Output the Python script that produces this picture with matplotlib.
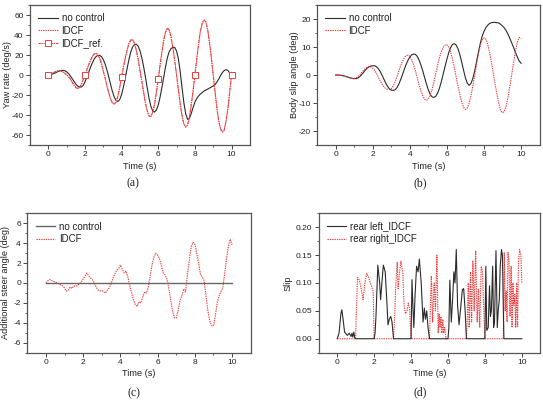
import numpy as np
import matplotlib

matplotlib.use("Agg")
import matplotlib.pyplot as plt

plt.rcParams["font.family"] = ["Liberation Sans", "DejaVu Sans"]

# sample times for panels (a)-(c), 0.1 s step
t = np.round(np.arange(101) * 0.1, 1)

# (a) yaw rate (deg/s)
yaw_nc = [0, 0.3, 0.8, 1.5, 2.3, 3.2, 4.0, 4.5, 4.7, 4.3,
          3.2, 1.5, -0.8, -3.5, -6.3, -9, -11, -12, -12, -10.5,
          -7, -2.5, 2.5, 7.5, 12, 15.8, 18.3, 19.6, 19.7, 18.5,
          15.5, 11, 5, -2, -9.5, -16.5, -22, -25.5, -26.4, -24.5,
          -19.5, -12, -3, 6.5, 15.5, 23, 28, 30.5, 30.8, 29,
          24.5, 17.5, 8.5, -2, -13, -23.5, -31.5, -36, -37, -35,
          -30, -22, -12.5, -2, 8.5, 17.5, 23.5, 26.5, 27.8, 27.5,
          24, 16, 3, -13, -28, -39, -44.4, -43.5, -38.5, -32.5,
          -27, -23.5, -21, -19, -17.5, -16, -15, -14, -13, -12,
          -11, -9.5, -7, -4, -0.5, 2.5, 4.5, 5.4, 4.5, 2,
          0]
yaw_idcf = [0, 0.5, 1.5, 2.5, 3.5, 4.2, 4.4, 4.0, 3.0, 1.8,
            0.3, -1.5, -4, -7, -10, -12.5, -13.5, -12.5, -9.5, -5,
            0, 5, 10, 14.5, 18.5, 21, 21.7, 20.5, 17, 11.5,
            4, -3, -11, -18, -24, -28, -29, -27, -21, -12,
            -2, 8, 17, 25, 31.5, 35, 35.3, 32, 25, 16,
            5, -6, -17, -28, -36, -41, -41.5, -37, -29, -17,
            -4, 10, 23, 35, 43, 47, 45, 38, 27, 14,
            0, -15, -29, -41, -49, -52, -50, -42, -30, -16,
            0, 16, 31, 44, 52, 55, 53, 45, 32, 17,
            0, -17, -33, -46, -54, -57, -55, -46, -33, -17,
            0]
yaw_ref = yaw_idcf

# (b) body slip angle (deg)
beta_nc = [0, 0, 0, -0.1, -0.2, -0.4, -0.6, -0.8, -1.0, -1.2,
           -1.3, -1.3, -1.1, -0.6, 0.1, 0.9, 1.7, 2.4, 2.9, 3.2,
           3.3, 3.3, 3.0, 2.3, 1.3, 0, -1.4, -2.8, -4.0, -4.9,
           -5.4, -5.5, -5.3, -4.6, -3.4, -1.8, 0, 1.9, 3.7, 5.2,
           6.4, 7.2, 7.5, 7.4, 6.7, 5.4, 3.6, 1.5, -0.9, -3.2,
           -5.3, -6.9, -7.8, -8.0, -7.6, -6.5, -4.7, -2.4, 0.3, 3.0,
           5.6, 8.0, 9.8, 10.9, 11.2, 10.7, 9.4, 7.3, 4.6, 1.7,
           -1.0, -2.9, -3.7, -3.0, -1.2, 1.5, 4.8, 8.2, 11.3, 13.8,
           15.6, 16.9, 17.8, 18.4, 18.7, 18.8, 18.8, 18.7, 18.6, 18.1,
           17.5, 16.8, 15.8, 14.5, 13.0, 11.4, 9.8, 8.0, 6.4, 5.0,
           4.2]
beta_idcf = [0, 0, -0.1, -0.2, -0.3, -0.5, -0.7, -0.9, -1.1, -1.2,
             -1.2, -1.0, -0.6, 0, 0.8, 1.6, 2.3, 2.8, 3.0, 2.9,
             2.5, 1.7, 0.6, -0.7, -2.0, -3.2, -4.2, -4.8, -5.1, -5.2,
             -4.9, -4.0, -2.6, -0.8, 1.2, 3.1, 4.8, 6.1, 6.9, 7.1,
             6.7, 5.6, 3.8, 1.6, -0.9, -3.4, -5.6, -7.4, -8.6, -9.0,
             -8.6, -7.3, -5.2, -2.5, 0.5, 3.5, 6.2, 8.4, 9.9, 10.7,
             10.8, 10.0, 8.3, 5.8, 2.7, -0.7, -4.0, -7.1, -9.7, -11.6,
             -12.3, -11.8, -10.0, -7.3, -3.9, -0.1, 3.8, 7.4, 10.4, 12.5,
             13.3, 12.8, 11.0, 8.2, 4.7, 0.8, -3.2, -7.0, -10.3, -12.7,
             -13.5, -12.9, -10.9, -7.8, -3.9, 0.3, 4.6, 8.6, 11.8, 13.4,
             13.0]

# (c) additional steer angle (deg)
steer_t_nc = [0, 10]
steer_nc = [0, 0]
steer_idcf = [0.0, 0.2, 0.35, 0.25, 0.15, 0.1, 0.0, -0.1, -0.2, -0.3,
              -0.5, -0.8, -0.75, -0.4, -0.55, -0.3, -0.35, -0.2, -0.1, 0.1,
              0.4, 0.7, 1.0, 0.7, 0.5, 0.3, 0.0, -0.4, -0.7, -0.8,
              -0.75, -0.9, -1.0, -0.7, -0.5, -0.1, 0.5, 0.9, 1.3, 1.4,
              1.8, 1.4, 1.0, 1.2, 0.6, -0.2, -1.0, -1.7, -2.2, -2.35,
              -1.9, -2.0, -1.4, -0.9, -1.0, -0.4, 0.7, 1.8, 2.6, 3.0,
              2.8, 2.4, 1.8, 1.0, 0.8, 0.4, -0.5, -1.7, -2.8, -3.5,
              -3.5, -2.8, -1.8, -1.3, -0.6, -0.9, 0.8, 2.3, 3.6, 4.1,
              3.9, 3.0, 2.0, 0.9, 0.6, 0.2, -1.3, -2.8, -3.8, -4.3,
              -4.3, -3.3, -2.0, -1.3, -0.9, -0.5, 0.9, 2.4, 3.7, 4.4,
              3.8]

# (d) wheel slip
rl_t = [0, 0.1, 0.2, 0.25, 0.3, 0.4, 0.45, 0.55, 0.65, 0.75, 0.8, 0.85, 0.9, 0.95, 1.0,
        2.0, 2.05, 2.1, 2.2, 2.3, 2.35, 2.42, 2.5, 2.6, 2.7, 2.75, 2.82, 2.9, 2.97, 3.05,
        4.0, 4.05, 4.1, 4.15, 4.22, 4.3, 4.38, 4.45, 4.55, 4.65, 4.72, 4.78, 4.85, 4.92, 5.0,
        6.0, 6.05, 6.1, 6.18, 6.25, 6.32, 6.38, 6.45, 6.52, 6.6, 6.7, 6.78, 6.85, 6.93, 7.0,
        8.0, 8.05, 8.1, 8.18, 8.25, 8.3, 8.35, 8.42, 8.47, 8.52, 8.6, 8.67, 8.72, 8.78, 8.83,
        8.9, 8.95, 9.0, 9.03, 10.0]
rl_slip = [0, 0.01, 0.045, 0.052, 0.04, 0.012, 0.01, 0.006, 0.01, 0.004, 0.01, 0.003, 0.012, 0.002, 0,
           0, 0.01, 0.04, 0.132, 0.1, 0.07, 0.1, 0.132, 0.12, 0.06, 0.025, 0.035, 0.04, 0.03, 0,
           0, 0.106, 0.06, 0.02, 0.08, 0.13, 0.12, 0.143, 0.1, 0.03, 0.055, 0.035, 0.05, 0.02, 0,
           0, 0.02, 0.105, 0.03, 0.07, 0.12, 0.1, 0.16, 0.06, 0.025, 0.06, 0.088, 0.09, 0.05, 0,
           0, 0.13, 0.015, 0.02, 0.095, 0.04, 0.05, 0.13, 0.02, 0.03, 0.158, 0.02, 0.05, 0.07, 0.13,
           0.16, 0.15, 0.05, 0, 0]
rr_t = [0, 1.0,
        1.02, 1.1, 1.2, 1.3, 1.4, 1.5, 1.6, 1.7, 1.8, 1.95, 2.0,
        3.05, 3.1, 3.18, 3.25, 3.3, 3.38, 3.45, 3.55, 3.62, 3.7, 3.78, 3.85, 3.92, 4.0,
        5.0, 5.05, 5.1, 5.17, 5.25, 5.32, 5.4, 5.47, 5.52, 5.57, 5.62, 5.67, 5.72, 5.77, 5.82, 5.9,
        7.0, 7.05, 7.1, 7.15, 7.22, 7.28, 7.35, 7.42, 7.5, 7.58, 7.65, 7.72, 7.8, 7.87, 7.93, 8.0,
        9.0, 9.05, 9.1, 9.15, 9.2, 9.25, 9.3, 9.36, 9.42, 9.47, 9.52, 9.57, 9.62, 9.67, 9.72,
        9.77, 9.82, 9.88, 9.95, 10.0]
rr_slip = [0, 0,
           0.03, 0.11, 0.105, 0.09, 0.07, 0.1, 0.117, 0.11, 0.1, 0.085, 0,
           0, 0.03, 0.1, 0.137, 0.09, 0.12, 0.139, 0.12, 0.06, 0.045, 0.05, 0.064, 0.055, 0,
           0, 0.06, 0.113, 0.03, 0.1, 0.05, 0.15, 0.01, 0.045, 0.02, 0.04, 0.01, 0.035, 0.01, 0.02, 0,
           0, 0.04, 0.1, 0.02, 0.12, 0.03, 0.14, 0.05, 0.158, 0.03, 0.09, 0.02, 0.13, 0.12, 0.06, 0,
           0, 0.155, 0.05, 0.085, 0.03, 0.155, 0.14, 0.04, 0.13, 0.02, 0.1, 0.06, 0.08, 0.02, 0.1,
           0.02, 0.14, 0.16, 0.15, 0.1]

BLACK = "#2b2b2b"
RED = "#ee3b3b"
DOT = (0, (1.2, 0.9))
LEG = dict(loc="upper left", frameon=False, fontsize=7.0, handlelength=2.0,
           handletextpad=0.4, labelspacing=0.25, borderaxespad=0.45)


def style(ax, ylim, yticks, ylabel, ylab_x, yfmt="{:g}", reverse=False):
    ax.set_xlim(-1, 11)
    ax.set_ylim(*ylim)
    ax.set_xticks([0, 2, 4, 6, 8, 10])
    ax.set_xticks([1, 3, 5, 7, 9], minor=True)
    ax.set_yticks(yticks)
    ax.set_yticklabels([yfmt.format(v) for v in yticks])
    step = yticks[1] - yticks[0]
    ax.set_yticks(np.arange(yticks[0] - step / 2, yticks[-1] + step, step / 2), minor=True)
    ax.tick_params(which="major", direction="out", length=3, width=0.7, labelsize=6.0,
                   pad=1.6, colors="#444444", labelcolor="#222222")
    ax.tick_params(which="minor", direction="out", length=1.6, width=0.6, colors="#444444")
    for s in ax.spines.values():
        s.set_color("#555555")
        s.set_linewidth(0.9)
    ax.set_xlabel("Time (s)", fontsize=6.6, color="#222222")
    ax.set_ylabel(ylabel, fontsize=6.6, color="#222222")
    ax.xaxis.set_label_coords(0.5, -0.12)
    ax.yaxis.set_label_coords(ylab_x, 0.5)
    h, l = ax.get_legend_handles_labels()
    if reverse:
        h, l = h[::-1], l[::-1]
    leg = ax.legend(h, l, **LEG)
    for txt in leg.get_texts():
        txt.set_color("#222222")


fig = plt.figure(figsize=(5.43, 4.01), dpi=100)
ax_a = fig.add_axes([0.0552, 0.6384, 0.405, 0.349])
ax_b = fig.add_axes([0.5838, 0.6384, 0.410, 0.349])
ax_c = fig.add_axes([0.0503, 0.1205, 0.4114, 0.3476])
ax_d = fig.add_axes([0.5870, 0.1205, 0.408, 0.3476])

# (a)
ax_a.plot(t, yaw_nc, color=BLACK, lw=0.8, label="no control")
ax_a.plot(t, yaw_idcf, color=RED, lw=0.8, ls=DOT, label="IDCF")
ax_a.plot(t, yaw_ref, color=RED, lw=0.7, ls=(0, (3, 1, 1, 1)), marker="s", markersize=3.8,
          markerfacecolor="white", markeredgecolor=RED, markeredgewidth=0.7,
          markevery=20, label="IDCF_ref.")
style(ax_a, (-70, 70), [-60, -40, -20, 0, 20, 40, 60], "Yaw rate (deg/s)", -0.082)

# (b)
ax_b.plot(t, beta_nc, color=BLACK, lw=0.8, label="no control")
ax_b.plot(t, beta_idcf, color=RED, lw=0.8, ls=DOT, label="IDCF")
style(ax_b, (-25, 25), [-20, -10, 0, 10, 20], "Body slip angle (deg)", -0.081)

# (c)
ax_c.plot(t, steer_idcf, color=RED, lw=0.8, ls=DOT, label="IDCF", zorder=2)
ax_c.plot(steer_t_nc, steer_nc, color="#666666", lw=1.0, label="no control", zorder=3)
style(ax_c, (-7, 7), [-6, -4, -2, 0, 2, 4, 6], "Additional steer angle (deg)", -0.077,
      reverse=True)

# (d)
ax_d.plot(rr_t, rr_slip, color=RED, lw=0.8, ls=DOT, label="rear right_IDCF", zorder=2)
ax_d.plot(rl_t, rl_slip, color=BLACK, lw=0.8, label="rear left_IDCF", zorder=3)
style(ax_d, (-0.025, 0.225), [0.0, 0.05, 0.10, 0.15, 0.20], "Slip", -0.118, yfmt="{:.2f}",
      reverse=True)

for x, y, s in [(133, 183, "(a)"), (420, 183, "(b)"), (134, 393, "(c)"), (420, 392, "(d)")]:
    fig.text(x / 543, 1 - y / 401, s, ha="center", va="center", fontsize=8.5,
             family=["Liberation Serif", "DejaVu Serif"], color="#222222")

fig.savefig("out.png", dpi=100)
